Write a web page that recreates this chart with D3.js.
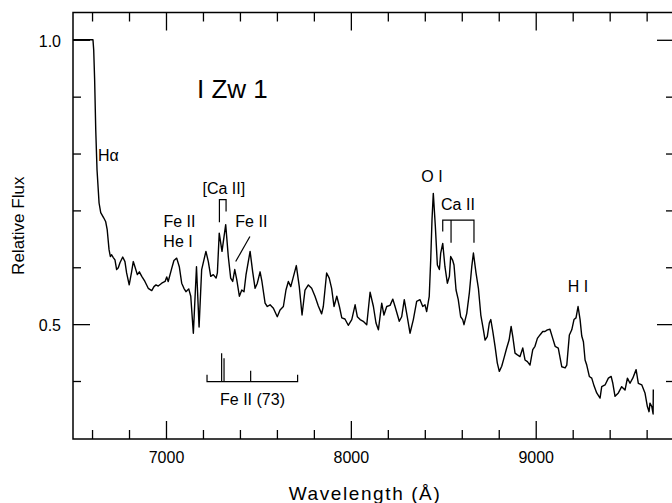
<!DOCTYPE html><meta charset="utf-8">
<style>
*{margin:0}
body{background:#fff}
svg{font-family:"Liberation Sans",Arial,sans-serif}
.axis path{display:none}
.axis line{stroke:#000;stroke-width:1.3px}
.axis text{font-size:16px;fill:#000;font-family:"Liberation Sans",Arial,sans-serif}
.lbl{font-size:16px;fill:#000}
.mark{fill:none;stroke:#000;stroke-width:1.2px}
</style>
<svg width="672" height="503"></svg>
<script src="https://d3js.org/d3.v7.min.js"></script>
<script>
// spectrum of I Zw 1
const wavelength = [6497,6605,6609,6614,6620,6627,6638,6647,6663,6674,
  6682,6692,6699,6706,6715,6724,6733,6742,6751,6766,
  6778,6787,6801,6814,6823,6832,6845,6856,6869,6886,
  6904,6923,6935,6946,6958,6977,6995,7004,7012,7031,
  7043,7058,7072,7085,7097,7108,7123,7134,7148,7165,
  7179,7193,7216,7229,7242,7256,7271,7278,7288,7303,
  7314,7323,7337,7350,7361,7372,7383,7397,7410,7422,
  7433,7455,7469,7482,7494,7509,7519,7536,7548,7563,
  7581,7602,7617,7635,7649,7662,7675,7705,7721,7736,
  7752,7770,7788,7806,7824,7842,7851,7869,7883,7896,
  7909,7924,7938,7951,7968,7986,8005,8023,8035,8050,
  8067,8086,8104,8122,8136,8149,8167,8179,8194,8212,
  8227,8239,8262,8275,8289,8305,8320,8338,8356,8374,
  8389,8401,8410,8424,8432,8439,8446,8457,8468,8479,
  8486,8497,8509,8522,8533,8540,8551,8558,8569,8581,
  8594,8605,8612,8627,8641,8654,8663,8677,8690,8703,
  8717,8726,8738,8749,8757,8768,8780,8792,8803,8816,
  8829,8843,8856,8867,8876,8888,8901,8915,8930,8942,
  8955,8969,8984,8996,9009,9023,9038,9050,9063,9077,
  9092,9105,9122,9141,9159,9168,9182,9195,9207,9218,
  9229,9240,9249,9258,9267,9276,9290,9303,9316,9330,
  9348,9357,9375,9393,9408,9417,9429,9447,9465,9483,
  9496,9510,9525,9543,9555,9574,9591,9604,9613,9618,
  9628,9635,9636];
const flux = [1.0,1.0,0.982,0.930,0.842,0.771,0.713,0.696,0.687,0.680,
  0.666,0.631,0.619,0.622,0.617,0.613,0.596,0.599,0.608,0.618,
  0.610,0.590,0.569,0.592,0.610,0.601,0.587,0.592,0.584,0.575,
  0.563,0.559,0.566,0.569,0.567,0.572,0.575,0.583,0.575,0.598,
  0.612,0.616,0.601,0.572,0.563,0.557,0.562,0.549,0.484,0.601,
  0.495,0.596,0.628,0.610,0.584,0.587,0.581,0.590,0.660,0.628,
  0.654,0.675,0.619,0.581,0.575,0.596,0.578,0.549,0.560,0.557,
  0.587,0.628,0.592,0.563,0.572,0.592,0.575,0.537,0.531,0.534,
  0.528,0.513,0.525,0.531,0.560,0.575,0.566,0.603,0.566,0.516,
  0.560,0.569,0.563,0.549,0.532,0.518,0.531,0.590,0.581,0.563,
  0.531,0.549,0.531,0.511,0.509,0.498,0.508,0.534,0.513,0.508,
  0.505,0.499,0.556,0.531,0.502,0.490,0.537,0.516,0.531,0.533,
  0.544,0.531,0.505,0.513,0.543,0.513,0.484,0.508,0.540,0.543,
  0.531,0.534,0.522,0.549,0.613,0.684,0.730,0.672,0.604,0.596,
  0.625,0.642,0.601,0.572,0.584,0.619,0.612,0.604,0.560,0.543,
  0.513,0.508,0.499,0.519,0.555,0.601,0.625,0.590,0.563,0.516,
  0.490,0.472,0.478,0.502,0.508,0.487,0.461,0.432,0.417,0.426,
  0.441,0.458,0.472,0.496,0.478,0.449,0.446,0.443,0.458,0.437,
  0.434,0.428,0.455,0.461,0.475,0.481,0.487,0.487,0.490,0.491,
  0.475,0.461,0.458,0.425,0.423,0.428,0.481,0.490,0.508,0.511,
  0.531,0.508,0.479,0.469,0.437,0.428,0.408,0.405,0.391,0.379,
  0.370,0.390,0.393,0.405,0.408,0.396,0.373,0.379,0.390,0.384,
  0.405,0.396,0.405,0.420,0.396,0.393,0.379,0.355,0.346,0.361,
  0.355,0.342,0.385];

const xMajor = [7000, 8000, 9000],
      xMinor = [6600,6800,7200,7400,7600,7800,8200,8400,8600,8800,9200,9400,9600],
      yMajor = [0.5, 1.0],
      yMinor = [0.4, 0.6, 0.7, 0.8, 0.9];

// line identifications (wavelength, flux where the label sits)
const lineLabels = [
  {text:"Hα",        w:6632, f:0.787, anchor:"start"},
  {text:"[Ca II]",   w:7313, f:0.729, anchor:"middle"},
  {text:"Fe II",     w:7073, f:0.671, anchor:"middle"},
  {text:"He I",      w:7065, f:0.636, anchor:"middle"},
  {text:"Fe II",     w:7375, f:0.671, anchor:"start"},
  {text:"O I",       w:8439, f:0.750, anchor:"middle"},
  {text:"Ca II",     w:8488, f:0.701, anchor:"start"},
  {text:"H I",       w:9229, f:0.557, anchor:"middle"},
  {text:"Fe II (73)",w:7468, f:0.358, anchor:"middle"}
];
const markers = [
  [[7289,0.679],[7289,0.719],[7325,0.719],[7325,0.698]],   // [Ca II] 7291,7324
  [[7454,0.654],[7377,0.610]],                             // Fe II pointer
  [[8497,0.663],[8497,0.683],[8666,0.683],[8666,0.643]],   // Ca II triplet
  [[8542,0.683],[8542,0.643]],
  [[7222,0.411],[7222,0.399],[7712,0.399],[7712,0.411]],   // Fe II (73)
  [[7301,0.399],[7301,0.449]],
  [[7314,0.399],[7314,0.440]],
  [[7458,0.399],[7458,0.418]]
];

const svg = d3.select("svg"),
      mL = 73, mR = 674, mT = 12.5, mB = 439,
      x = d3.scaleLinear().domain([6497, 9748]).range([mL, mR]),
      y = d3.scaleLinear().domain([0.298, 1.048]).range([mB, mT]);

// frame
svg.append("rect").attr("x",mL).attr("y",mT)
   .attr("width",mR-mL).attr("height",mB-mT)
   .attr("fill","none").attr("stroke","#000").attr("stroke-width",1.5);

const ax = (gen, tr) => svg.append("g").attr("class","axis").attr("transform",tr).call(gen);
ax(d3.axisBottom(x).tickValues(xMajor).tickSize(-18).tickPadding(13).tickFormat(d3.format("d")), `translate(0,${mB})`);
ax(d3.axisBottom(x).tickValues(xMinor).tickSize(-9).tickFormat(""), `translate(0,${mB})`);
ax(d3.axisTop(x).tickValues(xMajor).tickSize(-18).tickFormat(""), `translate(0,${mT})`);
ax(d3.axisTop(x).tickValues(xMinor).tickSize(-9).tickFormat(""), `translate(0,${mT})`);
ax(d3.axisLeft(y).tickValues(yMajor).tickSize(-17).tickPadding(12).tickFormat(d3.format(".1f")), `translate(${mL},0)`);
ax(d3.axisLeft(y).tickValues(yMinor).tickSize(-8).tickFormat(""), `translate(${mL},0)`);
ax(d3.axisRight(y).tickValues(yMajor).tickSize(-17).tickFormat(""), `translate(${mR},0)`);
ax(d3.axisRight(y).tickValues(yMinor).tickSize(-8).tickFormat(""), `translate(${mR},0)`);
svg.selectAll(".axis text").filter(function(){ return this.getAttribute("dy")=="0.32em"; }).attr("dy","0.4em");

// spectrum
const ln = d3.line().x(d=>x(d[0])).y(d=>y(d[1]));
svg.append("path")
   .datum(d3.zip(wavelength, flux))
   .attr("fill","none").attr("stroke","#000").attr("stroke-width",1.4)
   .attr("stroke-linejoin","round")
   .attr("d", ln);

svg.selectAll(".mark").data(markers).join("path").attr("class","mark").attr("d", ln);

svg.selectAll(".lbl").data(lineLabels).join("text").attr("class","lbl")
   .attr("x", d=>x(d.w)).attr("y", d=>y(d.f)).attr("text-anchor", d=>d.anchor)
   .text(d=>d.text);

svg.append("text").attr("x", x(7168)).attr("y", y(0.898))
   .attr("font-size", 26).text("I Zw 1");

// axis titles
svg.append("text").attr("x", 365).attr("y", 500).attr("text-anchor","middle")
   .attr("font-size", 19).attr("letter-spacing", 1.6).text("Wavelength  (Å)");
svg.append("text").attr("transform", `translate(24,${(mT+mB)/2}) rotate(-90)`)
   .attr("text-anchor","middle").attr("font-size", 17).text("Relative Flux");
</script>
